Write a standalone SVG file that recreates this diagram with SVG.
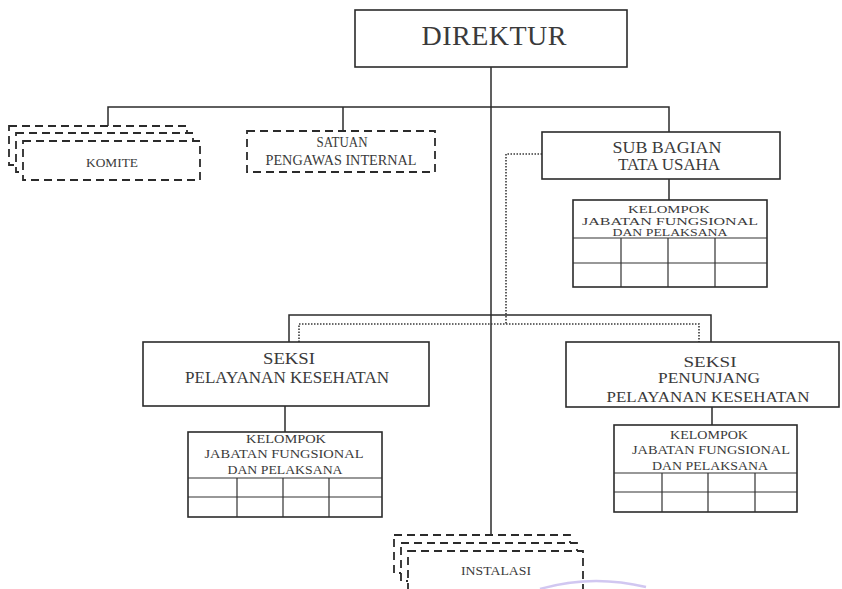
<svg xmlns="http://www.w3.org/2000/svg" width="842" height="589" viewBox="0 0 842 589">
<style>
.box{fill:#fff;stroke:#2b2b2b;stroke-width:1.6}
.dash{fill:#fff;stroke:#2b2b2b;stroke-width:1.8;stroke-dasharray:8 5}
.ln{fill:none;stroke:#2b2b2b;stroke-width:1.5}
.dot{fill:none;stroke:#3a3a3a;stroke-width:1.6;stroke-dasharray:1.5 1.5}
.grid{fill:none;stroke:#333;stroke-width:1.2}
text{font-family:"Liberation Serif","Times New Roman",serif;fill:#3a3a3a;text-anchor:middle}
.t28{font-size:28px}
.t17{font-size:17px}
.t16{font-size:16px}
.t15{font-size:15px}
.t14{font-size:14px}
.t13{font-size:13px}
.t11{font-size:11px}
</style>
<rect width="842" height="589" fill="#fff"/>
<g id="connectors">
<path class="ln" d="M491,67 V535"/>
<path class="ln" d="M108,126 V107 H669 V132"/>
<path class="ln" d="M343,107 V131"/>
<path class="ln" d="M669,179 V200"/>
<path class="ln" d="M289,342 V315 H711 V342"/>
<path class="ln" d="M285,406 V432"/>
<path class="ln" d="M712,407 V425"/>
<path class="dot" d="M542,154 H506 V324"/>
<path class="dot" d="M299,342 V324 H699 V342"/>
</g>
<g id="direktur">
<rect class="box" x="355" y="10" width="272" height="57"/>
<text class="t28" x="494" y="45" textLength="145" lengthAdjust="spacing">DIREKTUR</text>
</g>
<g id="komite">
<rect class="dash" x="9" y="126" width="178" height="39"/>
<rect class="dash" x="16" y="133" width="177" height="39"/>
<rect class="dash" x="23" y="141" width="177" height="39"/>
<text class="t13" x="112" y="167" textLength="52" lengthAdjust="spacingAndGlyphs">KOMITE</text>
</g>
<g id="satuan-pengawas-internal">
<rect class="dash" x="247" y="131" width="188" height="41"/>
<text class="t14" x="342" y="147" textLength="51" lengthAdjust="spacingAndGlyphs">SATUAN</text>
<text class="t14" x="341" y="165" textLength="151" lengthAdjust="spacingAndGlyphs">PENGAWAS INTERNAL</text>
</g>
<g id="sub-bagian-tata-usaha">
<rect class="box" x="542" y="132" width="238" height="47"/>
<text class="t16" x="667" y="153" textLength="109" lengthAdjust="spacingAndGlyphs">SUB BAGIAN</text>
<text class="t16" x="669" y="170" textLength="102" lengthAdjust="spacingAndGlyphs">TATA USAHA</text>
</g>
<g id="kelompok-tata-usaha">
<rect class="box" x="573" y="200" width="194" height="87"/>
<text class="t11" x="669" y="213" textLength="82" lengthAdjust="spacingAndGlyphs">KELOMPOK</text>
<text class="t11" x="670" y="225" textLength="176" lengthAdjust="spacingAndGlyphs">JABATAN FUNGSIONAL</text>
<text class="t11" x="670" y="236" textLength="115" lengthAdjust="spacingAndGlyphs">DAN PELAKSANA</text>
<path class="grid" d="M573,238 H767 M573,263 H767 M621,238 V287 M668,238 V287 M715,238 V287"/>
</g>
<g id="seksi-pelayanan-kesehatan">
<rect class="box" x="143" y="342" width="286" height="64"/>
<text class="t17" x="289" y="364" textLength="52" lengthAdjust="spacingAndGlyphs">SEKSI</text>
<text class="t17" x="287" y="383" textLength="204" lengthAdjust="spacingAndGlyphs">PELAYANAN KESEHATAN</text>
</g>
<g id="kelompok-pelayanan">
<rect class="box" x="188" y="432" width="194" height="85"/>
<text class="t13" x="286" y="443" textLength="80" lengthAdjust="spacingAndGlyphs">KELOMPOK</text>
<text class="t13" x="284" y="458" textLength="159" lengthAdjust="spacingAndGlyphs">JABATAN FUNGSIONAL</text>
<text class="t13" x="285" y="474" textLength="115" lengthAdjust="spacingAndGlyphs">DAN PELAKSANA</text>
<path class="grid" d="M188,478 H382 M188,497 H382 M237,478 V517 M283,478 V517 M329,478 V517"/>
</g>
<g id="seksi-penunjang-pelayanan-kesehatan">
<rect class="box" x="566" y="342" width="273" height="65"/>
<text class="t15" x="710" y="367" textLength="53" lengthAdjust="spacingAndGlyphs">SEKSI</text>
<text class="t15" x="709" y="383" textLength="102" lengthAdjust="spacingAndGlyphs">PENUNJANG</text>
<text class="t15" x="708" y="402" textLength="203" lengthAdjust="spacingAndGlyphs">PELAYANAN KESEHATAN</text>
</g>
<g id="kelompok-penunjang">
<rect class="box" x="614" y="425" width="183" height="87"/>
<text class="t13" x="709" y="439" textLength="78" lengthAdjust="spacingAndGlyphs">KELOMPOK</text>
<text class="t13" x="711" y="454" textLength="158" lengthAdjust="spacingAndGlyphs">JABATAN FUNGSIONAL</text>
<text class="t13" x="710" y="470" textLength="116" lengthAdjust="spacingAndGlyphs">DAN PELAKSANA</text>
<path class="grid" d="M614,473 H797 M614,492 H797 M662,473 V512 M708,473 V512 M755,473 V512"/>
</g>
<g id="instalasi">
<rect class="dash" x="394" y="535" width="176" height="38"/>
<rect class="dash" x="401" y="543" width="176" height="38"/>
<rect class="dash" x="408" y="551" width="175" height="40"/>
<text class="t13" x="496" y="575" textLength="70" lengthAdjust="spacingAndGlyphs">INSTALASI</text>
</g>
<path d="M540,589 Q592,574 646,587" fill="none" stroke="#b3a2e8" stroke-width="2.5" opacity="0.6"/>
</svg>
